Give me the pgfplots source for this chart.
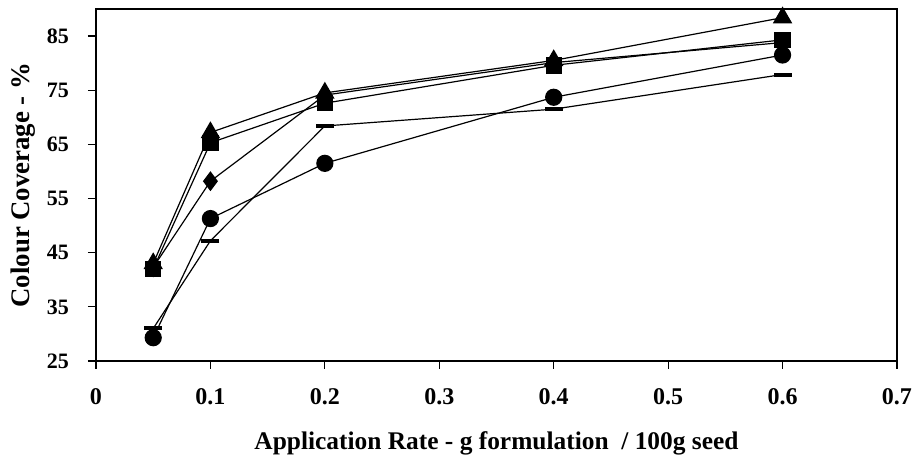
\documentclass[border=0pt]{standalone}
\usepackage{fontspec}
\setmainfont{Liberation Serif}
\usepackage{pgfplots}
\pgfplotsset{compat=1.18}

\begin{document}
\begin{tikzpicture}
\path[use as bounding box] (-48pt,-49pt) rectangle ++(459pt,229.5pt);
\begin{axis}[
    width=400.5pt, height=176pt,
    scale only axis,
    xmin=0, xmax=0.7,
    ymin=25, ymax=90,
    xtick={0,0.1,...,0.7},
    xticklabels={0,0.1,0.2,0.3,0.4,0.5,0.6,0.7},
    ytick={25,35,...,85},
    tick align=outside,
    xtick pos=bottom, ytick pos=left,
    major tick length=4pt,
    axis line style={line width=0.7pt},
    tick style={black, line width=0.6pt},
    /pgf/number format/assume math mode=true,
    xticklabel style={font=\bfseries\fontsize{12}{13}\selectfont, yshift=-6pt},
    yticklabel style={font=\bfseries\fontsize{11}{12}\selectfont, xshift=-6pt},
    xlabel={Application Rate - g formulation \ / 100g seed},
    ylabel={Colour Coverage - \%},
    xlabel style={font=\bfseries\fontsize{12.7}{14}\selectfont,
        at={(axis description cs:0.5,-0.235)}, anchor=center},
    ylabel style={font=\bfseries\fontsize{13.4}{15}\selectfont,
        at={(axis description cs:-0.0905,0.5)}, anchor=center},
    every axis plot/.append style={black, line width=0.6pt},
]
% triangle
\addplot[mark=triangle*, mark size=5pt] coordinates {
(0.05,43) (0.1,67.2) (0.2,74.5) (0.4,80.5) (0.6,88.4)};
% diamond
\addplot[mark=diamond*, mark size=4.5pt] coordinates {
(0.05,42.3) (0.1,58.2) (0.2,74.1) (0.4,80.1) (0.6,83.8)};
% square
\addplot[mark=square*, mark size=3.8pt] coordinates {
(0.05,42) (0.1,65.3) (0.2,72.6) (0.4,79.6) (0.6,84.3)};
% circle
\addplot[mark=*, mark size=4pt] coordinates {
(0.05,29.3) (0.1,51.3) (0.2,61.5) (0.4,73.7) (0.6,81.5)};
% dash
\addplot[mark=-, mark size=4.5pt, mark options={line width=2pt}] coordinates {
(0.05,31) (0.1,47.2) (0.2,68.4) (0.4,71.5) (0.6,77.9)};
\end{axis}
\end{tikzpicture}
\end{document}
